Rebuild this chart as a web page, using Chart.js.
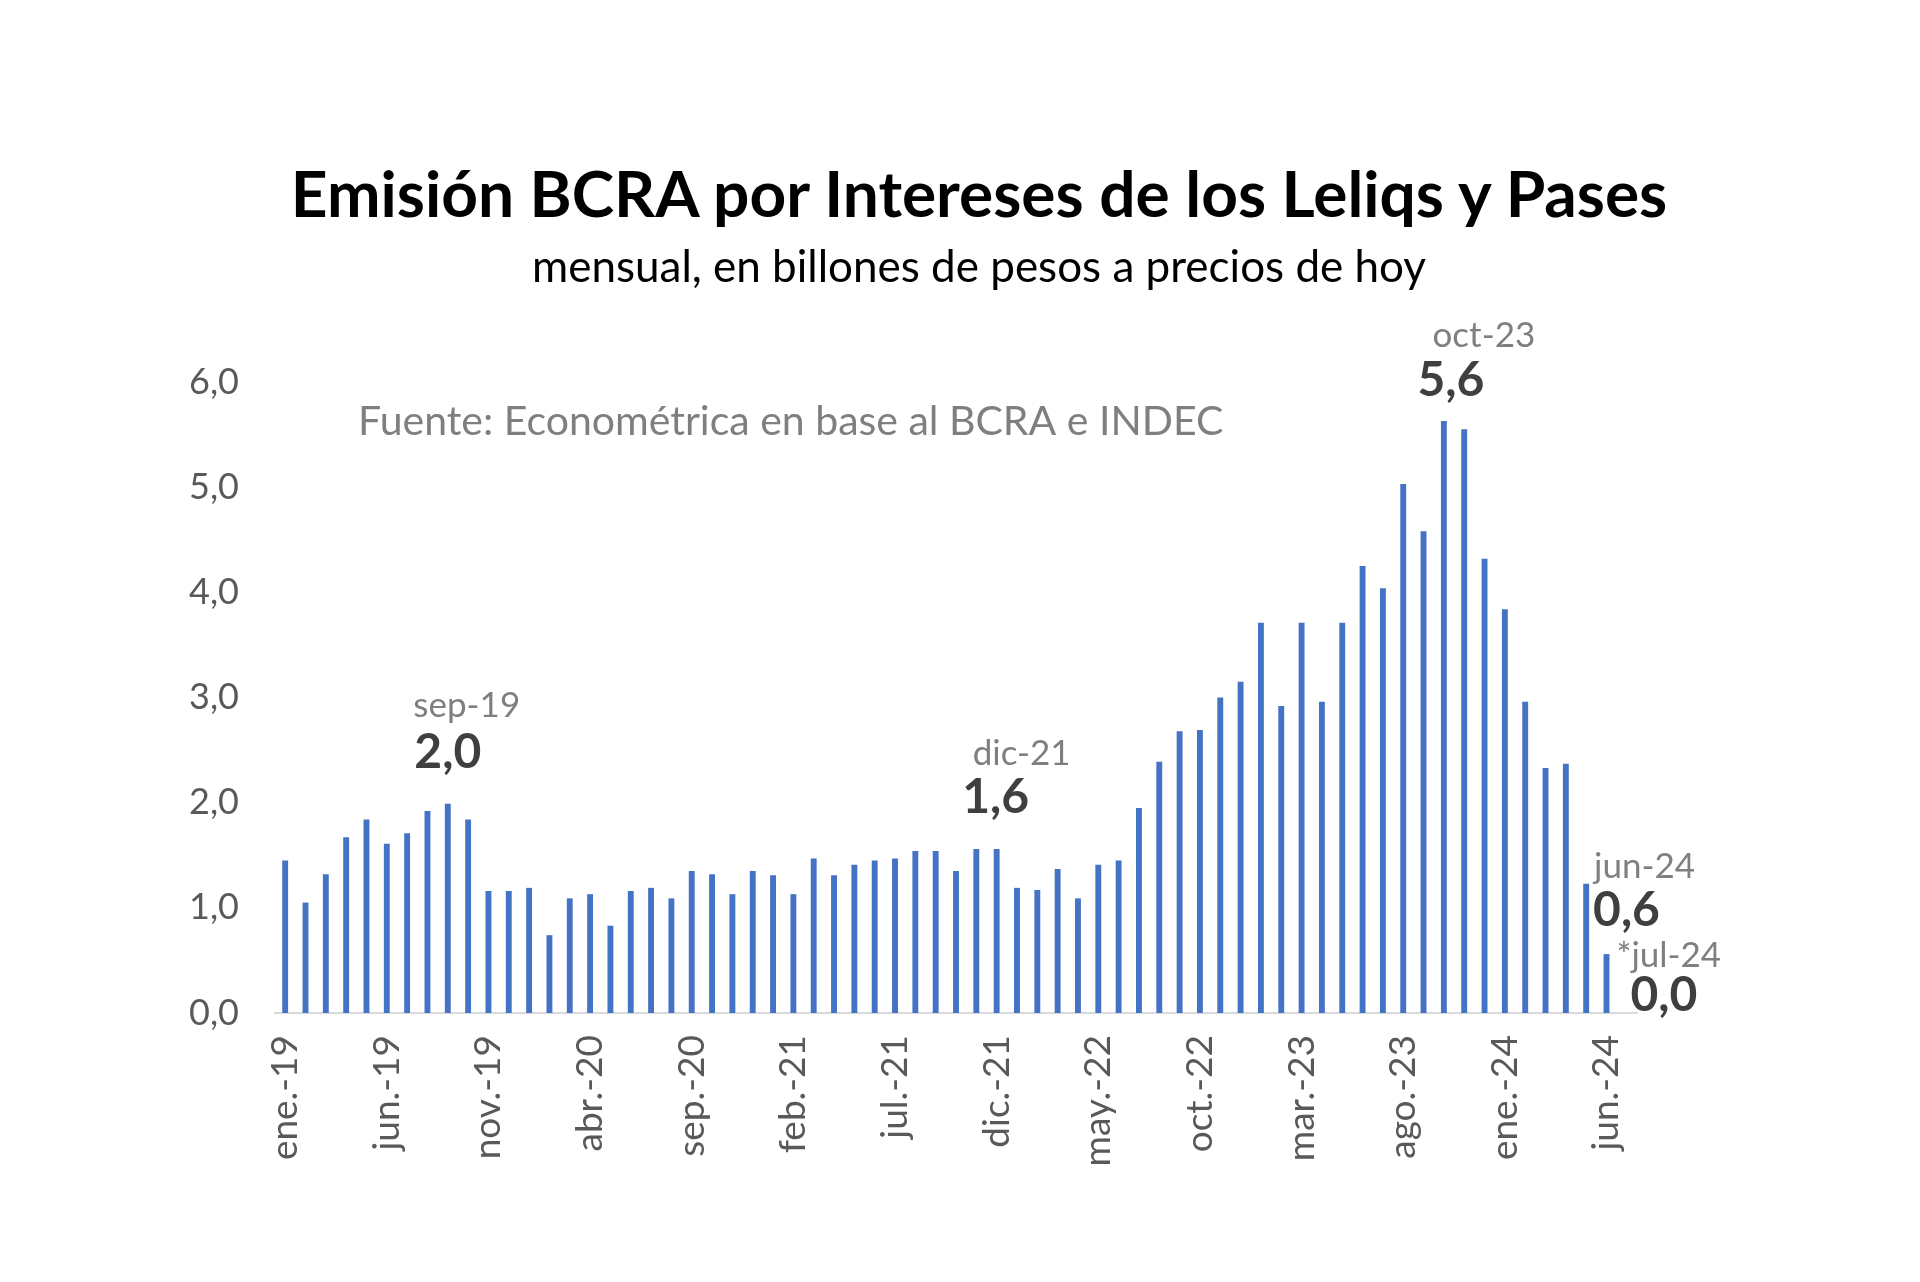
<!DOCTYPE html>
<html>
<head>
<meta charset="utf-8">
<script src="https://cdn.jsdelivr.net/npm/chart.js@4.4.0/dist/chart.umd.min.js"></script>
<style>
    html, body { margin: 0; padding: 0; background: #ffffff; }
    #wrap { position: relative; width: 1920px; height: 1282px; overflow: hidden; }
    #chart { position: absolute; left: 0; top: 0; }
    .head { position: absolute; left: 38px; width: 1882px; text-align: center; font-family: Lato, sans-serif; color: #000; line-height: 1.2; white-space: nowrap; }
    #title { top: 155px; font-size: 64px; font-weight: bold; }
    #subtitle { top: 239px; font-size: 44px; }
</style>
</head>
<body>
<div id="wrap">
    <canvas id="chart" width="1920" height="1282"></canvas>
    <div id="title" class="head">Emisión BCRA por Intereses de los Leliqs y Pases</div>
    <div id="subtitle" class="head">mensual, en billones de pesos a precios de hoy</div>
</div>
<script>
// meses, ene-19 a jul-24
const months = [
    'ene.-19', 'feb.-19', 'mar.-19', 'abr.-19', 'may.-19', 'jun.-19', 'jul.-19', 'ago.-19', 'sep.-19', 'oct.-19', 'nov.-19', 'dic.-19',
    'ene.-20', 'feb.-20', 'mar.-20', 'abr.-20', 'may.-20', 'jun.-20', 'jul.-20', 'ago.-20', 'sep.-20', 'oct.-20', 'nov.-20', 'dic.-20',
    'ene.-21', 'feb.-21', 'mar.-21', 'abr.-21', 'may.-21', 'jun.-21', 'jul.-21', 'ago.-21', 'sep.-21', 'oct.-21', 'nov.-21', 'dic.-21',
    'ene.-22', 'feb.-22', 'mar.-22', 'abr.-22', 'may.-22', 'jun.-22', 'jul.-22', 'ago.-22', 'sep.-22', 'oct.-22', 'nov.-22', 'dic.-22',
    'ene.-23', 'feb.-23', 'mar.-23', 'abr.-23', 'may.-23', 'jun.-23', 'jul.-23', 'ago.-23', 'sep.-23', 'oct.-23', 'nov.-23', 'dic.-23',
    'ene.-24', 'feb.-24', 'mar.-24', 'abr.-24', 'may.-24', 'jun.-24', 'jul.-24'
];

// billones de pesos
const emision = [
    1.45, 1.05, 1.32, 1.67, 1.84, 1.61, 1.71, 1.92, 1.99, 1.84, 1.16, 1.16,
    1.19, 0.74, 1.09, 1.13, 0.83, 1.16, 1.19, 1.09, 1.35, 1.32, 1.13, 1.35,
    1.31, 1.13, 1.47, 1.31, 1.41, 1.45, 1.47, 1.54, 1.54, 1.35, 1.56, 1.56,
    1.19, 1.17, 1.37, 1.09, 1.41, 1.45, 1.95, 2.39, 2.68, 2.69, 3.00, 3.15,
    3.71, 2.92, 3.71, 2.96, 3.71, 4.25, 4.04, 5.03, 4.58, 5.63, 5.55, 4.32,
    3.84, 2.96, 2.33, 2.37, 1.23, 0.56, 0.00
];

const yTicks = [0, 1, 2, 3, 4, 5, 6];
const fuente = 'Fuente: Econométrica en base al BCRA e INDEC';

// etiquetas destacadas
const calloutIndex = [8, 35, 57, 65, 66];
const calloutMonth = ['sep-19', 'dic-21', 'oct-23', 'jun-24', '*jul-24'];
const calloutValue = ['2,0', '1,6', '5,6', '0,6', '0,0'];
// desplazamientos respecto del tope de la barra (px)
const calloutOffset = [
    { vx: 0, vy: -51, mx: 19, my: -98 },
    { vx: -1, vy: -51, mx: 25, my: -95 },
    { vx: 7, vy: -40, mx: 40, my: -85 },
    { vx: 20, vy: -44, mx: 38, my: -87 },
    { vx: 37, vy: -17, mx: 42, my: -57 }
];

const FONT = 'Lato, sans-serif';

const calloutPlugin = {
    id: 'callouts',
    afterDatasetsDraw(chart) {
        const ctx = chart.ctx;
        const x = chart.scales.x;
        const y = chart.scales.y;
        const area = chart.chartArea;
        ctx.save();
        ctx.textBaseline = 'middle';

        // fuente
        ctx.textAlign = 'left';
        ctx.fillStyle = '#7f7f7f';
        ctx.font = '41px ' + FONT;
        ctx.fillText(fuente, area.left + 83, area.top + 40);

        ctx.textAlign = 'center';
        calloutIndex.forEach((idx, i) => {
            const px = x.getPixelForValue(idx);
            const py = y.getPixelForValue(emision[idx]);
            const off = calloutOffset[i];
            ctx.font = '35px ' + FONT;
            ctx.fillStyle = '#7f7f7f';
            ctx.fillText(calloutMonth[i], px + off.mx, py + off.my);
            ctx.font = 'bold 48px ' + FONT;
            ctx.fillStyle = '#3f3f3f';
            ctx.fillText(calloutValue[i], px + off.vx, py + off.vy);
        });
        ctx.restore();
    }
};

const ctx = document.getElementById('chart').getContext('2d');
new Chart(ctx, {
    type: 'bar',
    data: {
        labels: months,
        datasets: [{
            data: emision,
            backgroundColor: '#4472c4',
            borderWidth: 0,
            barPercentage: 0.29,
            categoryPercentage: 1
        }]
    },
    options: {
        responsive: false,
        animation: false,
        devicePixelRatio: 1,
        layout: { padding: { top: 382, right: 283, bottom: 0, left: 0 } },
        plugins: {
            legend: { display: false },
            tooltip: { enabled: false },
            title: { display: false }
        },
        scales: {
            x: {
                grid: { display: false, drawTicks: false },
                border: { display: true, color: '#d9d9d9', width: 2 },
                afterFit: s => { s.height = 269; },
                ticks: {
                    autoSkip: false,
                    minRotation: 90,
                    maxRotation: 90,
                    padding: 22,
                    color: '#595959',
                    font: { family: FONT, size: 37 },
                    callback: (val, i) => (i % 5 === 0 && i < 66 ? months[i] : '')
                }
            },
            y: {
                min: 0,
                max: 6,
                grid: { display: false, drawTicks: false },
                border: { display: false },
                afterFit: s => { s.width = 275; },
                afterBuildTicks: s => { s.ticks = yTicks.map(v => ({ value: v })); },
                ticks: {
                    padding: 36,
                    color: '#595959',
                    font: { family: FONT, size: 36 },
                    callback: v => v.toFixed(1).replace('.', ',')
                }
            }
        }
    },
    plugins: [calloutPlugin]
});
</script>
</body>
</html>
